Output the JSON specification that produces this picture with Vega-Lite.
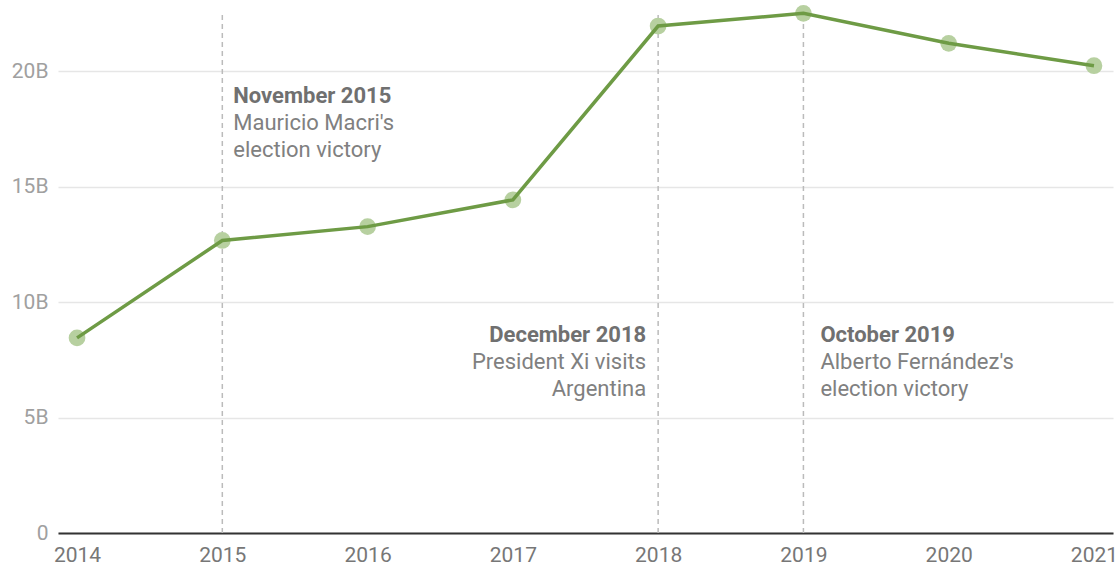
{
  "$schema": "https://vega.github.io/schema/vega-lite/v6.json",
  "autosize": "none",
  "width": 1055,
  "height": 531,
  "padding": {"left": 58, "top": 2, "right": 7, "bottom": 36},
  "background": "white",
  "config": {
    "font": "Roboto",
    "view": {"stroke": null}
  },
  "datasets": {
    "series": [
      {"year": 2014, "value": 8.45},
      {"year": 2015, "value": 12.67},
      {"year": 2016, "value": 13.27},
      {"year": 2017, "value": 14.43},
      {"year": 2018, "value": 21.96},
      {"year": 2019, "value": 22.51},
      {"year": 2020, "value": 21.21},
      {"year": 2021, "value": 20.24}
    ],
    "events": [
      {"year": 2015, "labelY": 18.62, "title": "November 2015", "body": "Mauricio Macri's\nelection victory", "side": "left1"},
      {"year": 2018, "labelY": 8.28, "title": "December 2018", "body": "President Xi visits\nArgentina", "side": "right"},
      {"year": 2019, "labelY": 8.26, "title": "October 2019", "body": "Alberto Fernández's\nelection victory", "side": "left2"}
    ]
  },
  "layer": [
    {
      "data": {"name": "series"},
      "mark": {"type": "line", "opacity": 0},
      "encoding": {
        "x": {
          "field": "year", "type": "quantitative",
          "scale": {"domain": [2013.869, 2021.131], "nice": false, "zero": false},
          "axis": {
            "values": [2014, 2015, 2016, 2017, 2018, 2019, 2020, 2021],
            "format": "d", "title": null, "grid": false, "ticks": false,
            "domain": true, "domainColor": "#333333", "domainWidth": 2,
            "labelFontSize": 21, "labelColor": "#777777", "labelPadding": 11,
            "labelFlush": false
          }
        },
        "y": {
          "field": "value", "type": "quantitative",
          "scale": {"domain": [0, 23], "nice": false},
          "axis": {
            "values": [0, 5, 10, 15, 20],
            "labelExpr": "datum.value == 0 ? '0' : datum.value + 'B'",
            "title": null, "grid": true, "gridColor": "#e6e6e6", "gridWidth": 1.5,
            "domain": false, "ticks": false,
            "labelFontSize": 21, "labelColor": "#a0a0a0", "labelPadding": 10
          }
        }
      }
    },
    {
      "data": {"name": "events"},
      "mark": {"type": "rule", "color": "#bbbbbb", "strokeDash": [5, 4], "strokeWidth": 1.5},
      "encoding": {
        "x": {"field": "year", "type": "quantitative"},
        "y": {"datum": 0},
        "y2": {"datum": 22.52}
      }
    },
    {
      "data": {"name": "series"},
      "mark": {"type": "circle", "size": 280, "color": "#b7d0a0", "opacity": 1},
      "encoding": {
        "x": {"field": "year", "type": "quantitative"},
        "y": {"field": "value", "type": "quantitative"}
      }
    },
    {
      "data": {"name": "series"},
      "mark": {"type": "line", "color": "#6e9b45", "strokeWidth": 3.5},
      "encoding": {
        "x": {"field": "year", "type": "quantitative"},
        "y": {"field": "value", "type": "quantitative"}
      }
    },
    {
      "data": {"name": "events"},
      "transform": [{"filter": "datum.side == 'left1'"}],
      "mark": {"type": "text", "align": "left", "baseline": "alphabetic", "dx": 11, "fontSize": 22, "fontWeight": "bold", "color": "#707070"},
      "encoding": {
        "x": {"field": "year", "type": "quantitative"},
        "y": {"field": "labelY", "type": "quantitative"},
        "text": {"field": "title"}
      }
    },
    {
      "data": {"name": "events"},
      "transform": [{"filter": "datum.side == 'left1'"}],
      "mark": {"type": "text", "align": "left", "baseline": "alphabetic", "dx": 11, "dy": 27, "fontSize": 22, "lineHeight": 27, "lineBreak": "\n", "color": "#808080"},
      "encoding": {
        "x": {"field": "year", "type": "quantitative"},
        "y": {"field": "labelY", "type": "quantitative"},
        "text": {"field": "body"}
      }
    },
    {
      "data": {"name": "events"},
      "transform": [{"filter": "datum.side == 'left2'"}],
      "mark": {"type": "text", "align": "left", "baseline": "alphabetic", "dx": 17, "fontSize": 22, "fontWeight": "bold", "color": "#707070"},
      "encoding": {
        "x": {"field": "year", "type": "quantitative"},
        "y": {"field": "labelY", "type": "quantitative"},
        "text": {"field": "title"}
      }
    },
    {
      "data": {"name": "events"},
      "transform": [{"filter": "datum.side == 'left2'"}],
      "mark": {"type": "text", "align": "left", "baseline": "alphabetic", "dx": 17, "dy": 27, "fontSize": 22, "lineHeight": 27, "lineBreak": "\n", "color": "#808080"},
      "encoding": {
        "x": {"field": "year", "type": "quantitative"},
        "y": {"field": "labelY", "type": "quantitative"},
        "text": {"field": "body"}
      }
    },
    {
      "data": {"name": "events"},
      "transform": [{"filter": "datum.side == 'right'"}],
      "mark": {"type": "text", "align": "right", "baseline": "alphabetic", "dx": -12, "fontSize": 22, "fontWeight": "bold", "color": "#707070"},
      "encoding": {
        "x": {"field": "year", "type": "quantitative"},
        "y": {"field": "labelY", "type": "quantitative"},
        "text": {"field": "title"}
      }
    },
    {
      "data": {"name": "events"},
      "transform": [{"filter": "datum.side == 'right'"}],
      "mark": {"type": "text", "align": "right", "baseline": "alphabetic", "dx": -12, "dy": 27, "fontSize": 22, "lineHeight": 27, "lineBreak": "\n", "color": "#808080"},
      "encoding": {
        "x": {"field": "year", "type": "quantitative"},
        "y": {"field": "labelY", "type": "quantitative"},
        "text": {"field": "body"}
      }
    }
  ]
}
